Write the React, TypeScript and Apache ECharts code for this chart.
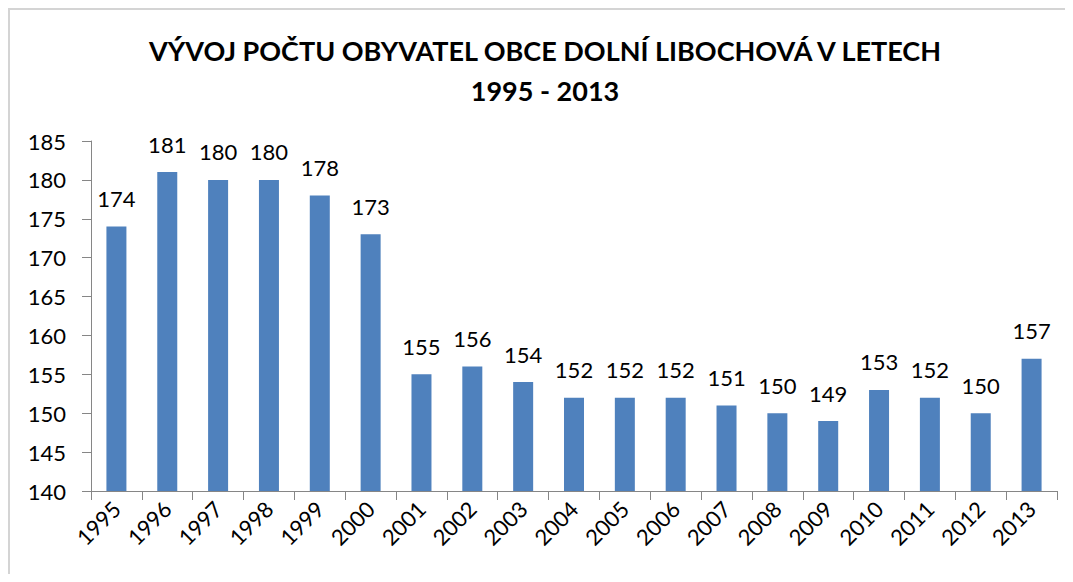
import React, { useEffect, useRef } from "react";
import * as echarts from "echarts";

const titleLines = ["VÝVOJ POČTU OBYVATEL OBCE DOLNÍ LIBOCHOVÁ V LETECH", "1995 - 2013"];
const years = ["1995","1996","1997","1998","1999","2000","2001","2002","2003","2004","2005","2006","2007","2008","2009","2010","2011","2012","2013"];
const population = [174,181,180,180,178,173,155,156,154,152,152,152,151,150,149,153,152,150,157];
const yMin = 140;
const yMax = 185;
const yStep = 5;

export default function App() {
  const ref = useRef<HTMLDivElement>(null);
  useEffect(() => {
    if (!ref.current) return;
    const chart = echarts.init(ref.current, null, { renderer: "svg" });
    const font = "Lato";
    chart.setOption({
      animation: false,
      backgroundColor: "#ffffff",
      graphic: titleLines.map((t, i) => ({
        type: "text",
        x: 535,
        y: 40 + i * 40,
        style: {
          text: t,
          align: "center",
          verticalAlign: "middle",
          font: `bold 27px ${font}`,
          fill: "#000",
        },
      })),
      grid: { left: 81, right: 8, top: 131, bottom: 83 },
      xAxis: {
        type: "category",
        data: years,
        axisLine: { lineStyle: { color: "#868686", width: 1 } },
        axisTick: { show: true, length: 9, lineStyle: { color: "#868686" } },
        axisLabel: { rotate: 45, fontFamily: font, fontSize: 22, color: "#000", margin: 14, interval: 0 },
      },
      yAxis: {
        type: "value",
        min: yMin,
        max: yMax,
        interval: yStep,
        splitLine: { show: false },
        axisLine: { show: true, lineStyle: { color: "#868686", width: 1 } },
        axisTick: { show: true, length: 9, lineStyle: { color: "#868686" } },
        axisLabel: { fontFamily: font, fontSize: 22, color: "#000", margin: 25 },
      },
      series: [
        {
          type: "bar",
          data: population,
          barWidth: 20,
          itemStyle: { color: "#4f81bd" },
          label: { show: true, position: "top", distance: 17, fontFamily: font, fontSize: 22, color: "#000" },
        },
      ],
    });
    return () => chart.dispose();
  }, []);
  return (
    <div style={{ width: 1057, height: 566, boxSizing: "border-box", borderTop: "2px solid #d4d4d4", borderLeft: "2px solid #d4d4d4", overflow: "hidden" }}>
      <div ref={ref} style={{ width: 1055, height: 564 }} />
    </div>
  );
}
